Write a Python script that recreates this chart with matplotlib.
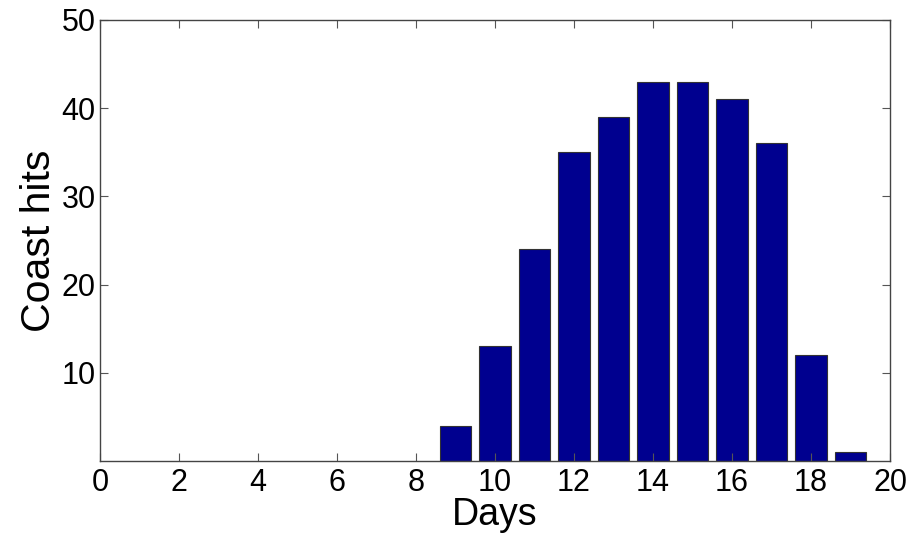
import numpy as np
import matplotlib.pyplot as plt

plt.rcParams['font.family'] = ['Liberation Sans', 'DejaVu Sans']

# Données
days = [9, 10, 11, 12, 13, 14, 15, 16, 17, 18, 19]
hits = [4, 13, 24, 35, 39, 43, 43, 41, 36, 12, 1]
xticks = list(range(0, 21, 2))
yticks = [10, 20, 30, 40, 50]

fig = plt.figure(figsize=(9.17, 5.39), dpi=100)
ax = fig.add_axes([0.109, 0.1447, 0.8616, 0.8183])

ax.bar(days, hits, width=0.8, color='#00008f', edgecolor='#333333', linewidth=0.8)

ax.set_xlim(0, 20)
ax.set_ylim(0, 50)
ax.set_xticks(xticks)
ax.set_yticks(yticks)
ax.tick_params(direction='in', top=True, right=True, labelsize=22, length=6,
               width=0.8, color='#555555')
ax.tick_params(axis='x', pad=5)
ax.tick_params(axis='y', pad=3)
for s in ax.spines.values():
    s.set_color('#444444')
    s.set_linewidth(1.0)

ax.set_xlabel('Days', fontsize=27, labelpad=-1)
ax.set_ylabel('Coast hits', fontsize=29.5, labelpad=2.5)

fig.savefig('out.png', dpi=100)
